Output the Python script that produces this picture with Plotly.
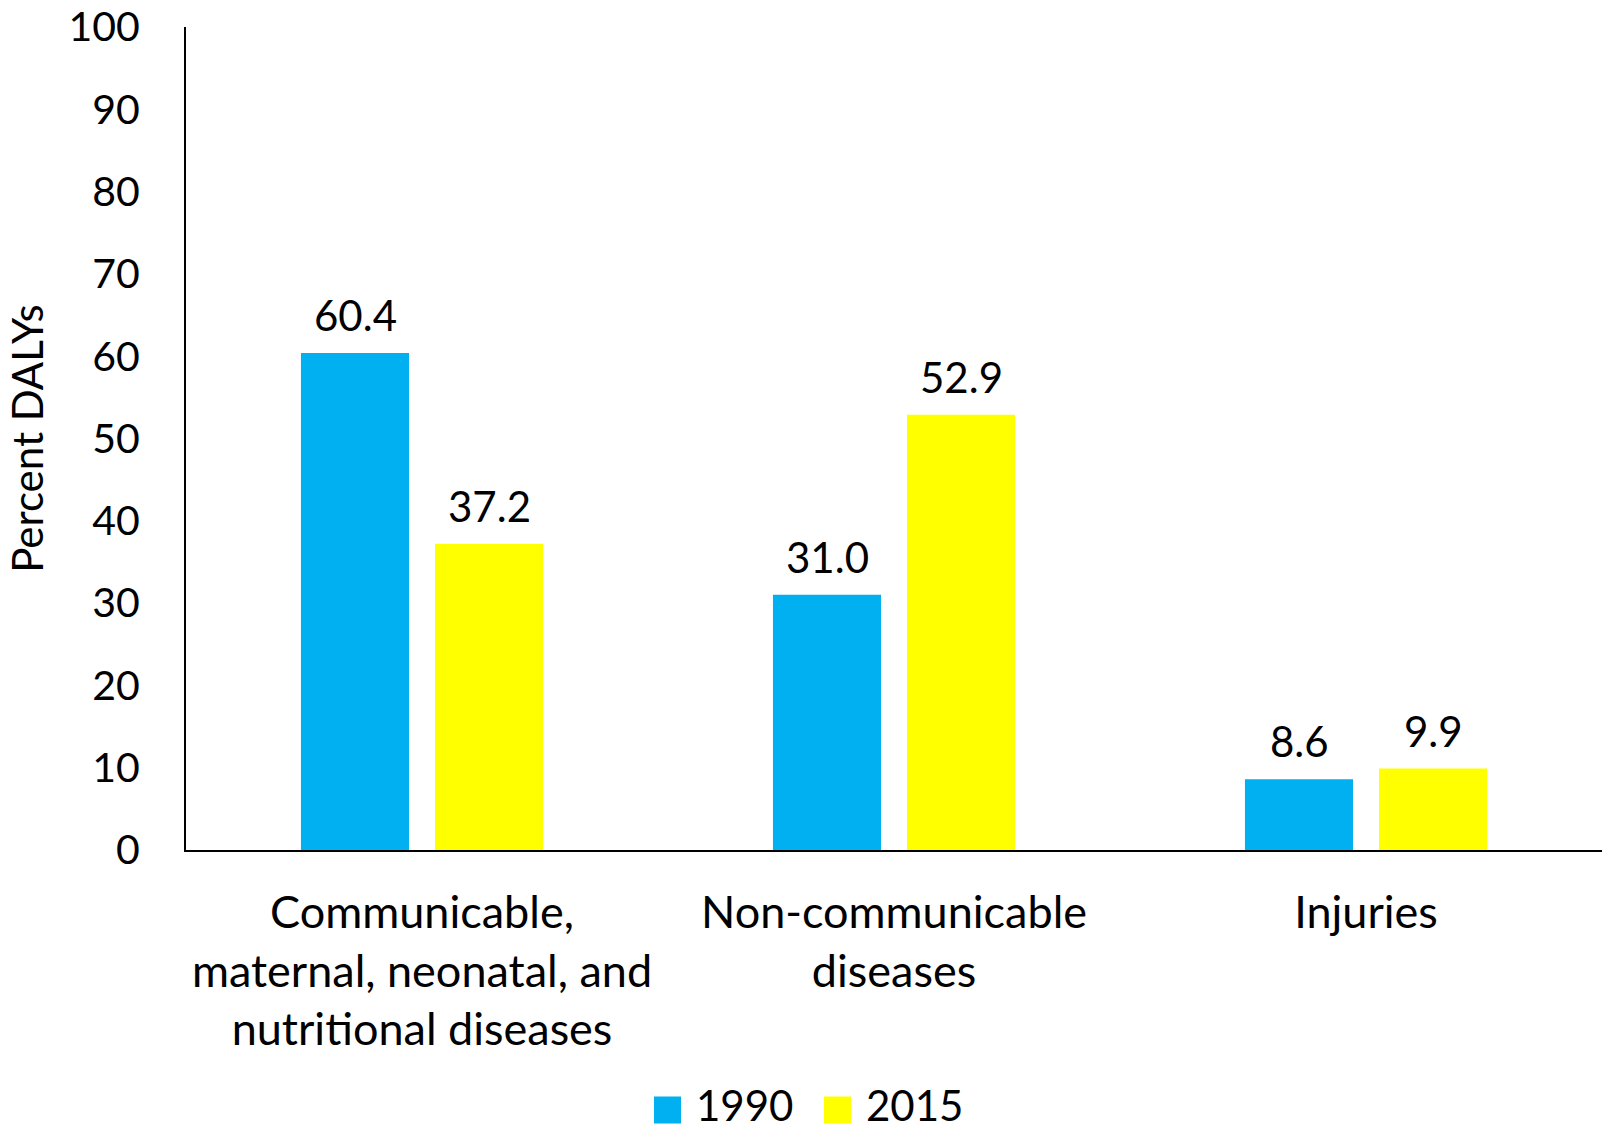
import plotly.graph_objects as go

categories = ["Communicable,<br>maternal, neonatal, and<br>nutritional diseases",
              "Non-communicable<br>diseases",
              "Injuries"]
years = ["1990", "2015"]
values_1990 = [60.4, 31.0, 8.6]
values_2015 = [37.2, 52.9, 9.9]
colors = {"1990": "#00B0F0", "2015": "#FFFF00"}
y_ticks = [0, 10, 20, 30, 40, 50, 60, 70, 80, 90, 100]

FONT = "Lato"
W, H = 1602, 1131
L, R, T, B = 186, 0, 27, 281
PW, PH = W - L - R, H - T - B

fig = go.Figure()
series = {"1990": values_1990, "2015": values_2015}
for yr in years:
    fig.add_trace(go.Bar(x=categories, y=series[yr], name=yr,
                         marker=dict(color=colors[yr], line=dict(width=0)),
                         showlegend=False, offsetgroup=yr))

# data labels
for i, yr in enumerate(years):
    for j, cat in enumerate(categories):
        v = series[yr][j]
        fig.add_annotation(x=cat, y=v, text=f"{v:.1f}", showarrow=False,
                           yanchor="bottom", yshift=11,
                           xshift=(-67 if i == 0 else 67),
                           font=dict(family=FONT, size=42, color="black"))

# manual legend (pixel layout -> paper coords)
def px2x(px):
    return (px - L) / PW

def py2y(py):
    return (H - B - py) / PH

legend_items = [("1990", 654), ("2015", 824)]
sq = 27
cy = 1110
text_cy = 1105
for yr, x0 in legend_items:
    fig.add_shape(type="rect", xref="paper", yref="paper",
                  x0=px2x(x0), x1=px2x(x0 + sq), y0=py2y(cy + sq / 2), y1=py2y(cy - sq / 2),
                  fillcolor=colors[yr], line=dict(width=0))
    fig.add_annotation(xref="paper", yref="paper", x=px2x(x0 + sq + 13), y=py2y(text_cy),
                       xanchor="left", yanchor="middle", text=yr, showarrow=False,
                       font=dict(family=FONT, size=42, color="black"))

fig.update_layout(
    width=W, height=H,
    margin=dict(l=L, r=R, t=T, b=B, autoexpand=False),
    paper_bgcolor="white", plot_bgcolor="white",
    barmode="group", bargap=0.432, bargroupgap=0.194,
    font=dict(family=FONT, size=40, color="black"),
    showlegend=False,
)
fig.update_xaxes(showline=True, linecolor="black", linewidth=2, ticks="",
                 showgrid=False, ticklabelstandoff=22, automargin=False,
                 tickfont=dict(family=FONT, size=45))
fig.update_yaxes(range=[0, 100], tickvals=y_ticks, showline=True, linecolor="black",
                 linewidth=2, showgrid=False, zeroline=False, ticks="",
                 ticklabelstandoff=36, automargin=False,
                 tickfont=dict(family=FONT, size=41),
                 title=dict(text="Percent DALYs", standoff=12,
                            font=dict(family=FONT, size=42)))

fig.write_html("out.html", config={"displayModeBar": False},
               post_script="document.body.style.margin='0';document.body.style.overflow='hidden';")
